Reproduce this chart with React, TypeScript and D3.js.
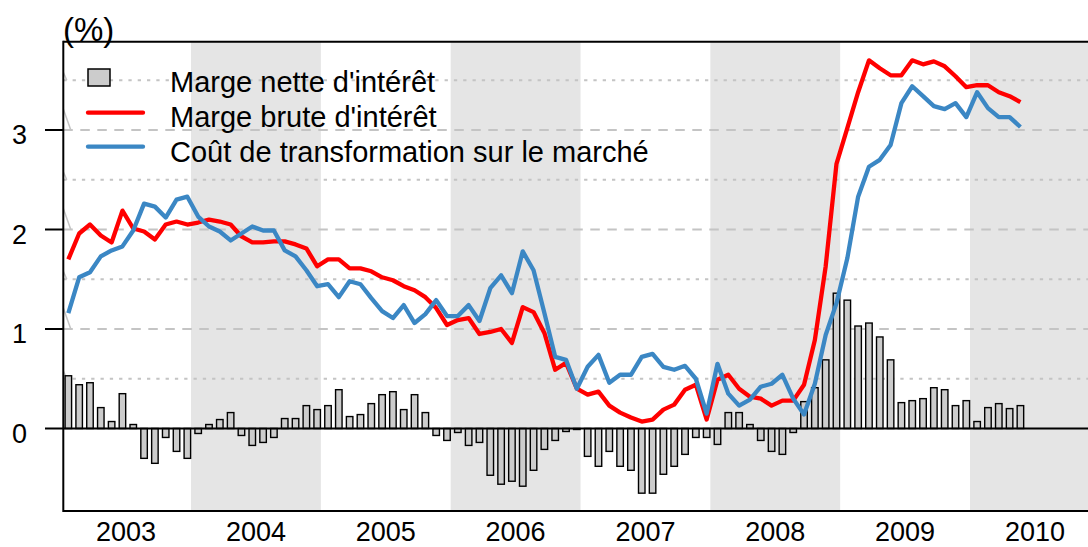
import React from 'react';
import * as d3 from 'd3';

// monthly values, Jan 2003 -> May 2010
const margeNette = [
  0.53, 0.44, 0.46, 0.21, 0.07, 0.35, 0.04, -0.30, -0.35, -0.09, -0.23, -0.30,
  -0.05, 0.04, 0.09, 0.16, -0.07, -0.17, -0.14, -0.09, 0.10, 0.10, 0.23, 0.19,
  0.23, 0.39, 0.12, 0.14, 0.25, 0.34, 0.37, 0.19, 0.34, 0.16, -0.07, -0.12,
  -0.04, -0.17, -0.14, -0.47, -0.56, -0.53, -0.58, -0.42, -0.21, -0.12, -0.03, -0.01,
  -0.28, -0.38, -0.23, -0.38, -0.42, -0.65, -0.65, -0.46, -0.38, -0.26, -0.09, -0.09,
  -0.16, 0.16, 0.16, 0.04, -0.12, -0.23, -0.26, -0.04, 0.27, 0.41, 0.69, 1.36,
  1.29, 1.03, 1.06, 0.92, 0.69, 0.26, 0.28, 0.30, 0.41, 0.39, 0.23, 0.28,
  0.07, 0.21, 0.25, 0.20, 0.23,
];

const margeBrute = [
  1.70, 1.96, 2.05, 1.94, 1.87, 2.19, 2.01, 1.98, 1.90, 2.05, 2.08, 2.05,
  2.07, 2.10, 2.08, 2.05, 1.93, 1.87, 1.87, 1.88, 1.88, 1.85, 1.81, 1.63,
  1.70, 1.70, 1.61, 1.61, 1.58, 1.52, 1.49, 1.43, 1.39, 1.32, 1.21, 1.04,
  1.09, 1.11, 0.95, 0.97, 1.00, 0.86, 1.22, 1.17, 0.96, 0.59, 0.66, 0.40,
  0.34, 0.37, 0.23, 0.16, 0.11, 0.07, 0.09, 0.19, 0.24, 0.39, 0.44, 0.09,
  0.49, 0.54, 0.40, 0.32, 0.30, 0.23, 0.28, 0.28, 0.44, 0.89, 1.63, 2.66,
  3.02, 3.38, 3.70, 3.62, 3.55, 3.55, 3.70, 3.66, 3.69, 3.64, 3.54, 3.43,
  3.45, 3.45, 3.38, 3.34, 3.28,
];

const coutTransfo = [
  1.16, 1.52, 1.57, 1.73, 1.79, 1.83, 1.99, 2.26, 2.23, 2.12, 2.30, 2.33,
  2.13, 2.03, 1.98, 1.89, 1.96, 2.03, 1.99, 1.99, 1.79, 1.73, 1.59, 1.43,
  1.45, 1.32, 1.48, 1.45, 1.31, 1.18, 1.11, 1.24, 1.06, 1.15, 1.29, 1.13,
  1.13, 1.24, 1.08, 1.41, 1.54, 1.36, 1.78, 1.59, 1.16, 0.72, 0.69, 0.40,
  0.62, 0.74, 0.46, 0.54, 0.54, 0.72, 0.75, 0.62, 0.59, 0.63, 0.50, 0.15,
  0.65, 0.35, 0.23, 0.29, 0.42, 0.45, 0.54, 0.30, 0.14, 0.45, 0.94, 1.26,
  1.71, 2.33, 2.63, 2.70, 2.85, 3.27, 3.44, 3.34, 3.24, 3.21, 3.27, 3.13,
  3.38, 3.22, 3.13, 3.13, 3.03,
];

const years = [2003, 2004, 2005, 2006, 2007, 2008, 2009, 2010];
const shadedYears = [2004, 2006, 2008, 2010];
const yTicks = [0, 1, 2, 3];
const gridDashed = [1, 2, 3];
const gridDotted = [0.5, 1.5, 2.5, 3.5];
const legendLabels = [
  "Marge nette d'intérêt",
  "Marge brute d'intérêt",
  'Coût de transformation sur le marché',
];

const font = '"Liberation Sans", Arial, Helvetica, sans-serif';
const plot = { left: 63.3, right: 1088, top: 41.7, bottom: 511 };

export default function App() {
  const x = d3.scaleLinear().domain([2003, 2010]).range([61.2, 970]);
  const y = d3.scaleLinear().domain([0, 3]).range([428.5, 130]);
  const monthX = (i: number) => x(2003 + (i + 0.66) / 12);

  const line = d3
    .line<number>()
    .x((d, i) => monthX(i))
    .y((d) => y(d));

  const bw = 6.5;
  const gridColor = '#c4c4c4';

  return (
    <svg
      width={1088}
      height={547}
      style={{ position: 'absolute', left: 0, top: 0, background: '#fff' }}
      fontFamily={font}
    >
      <defs>
        <clipPath id="plotClip">
          <rect
            x={plot.left}
            y={plot.top}
            width={plot.right - plot.left}
            height={plot.bottom - plot.top}
          />
        </clipPath>
      </defs>

      <g clipPath="url(#plotClip)">
        {shadedYears.map((yr) => (
          <rect
            key={yr}
            x={x(yr)}
            y={plot.top}
            width={x(yr + 1) - x(yr)}
            height={plot.bottom - plot.top}
            fill="#e5e5e5"
          />
        ))}

        {gridDashed.map((v) => (
          <g key={'d' + v}>
            <line x1={plot.left} x2={plot.right} y1={y(v)} y2={y(v)}
              stroke={gridColor} strokeWidth={2} strokeDasharray="9.5 7.5" />
            <line x1={plot.left} x2={plot.left + 7.5} y1={y(v) - 21} y2={y(v)}
              stroke={gridColor} strokeWidth={1.5} />
          </g>
        ))}
        {gridDotted.map((v) => (
          <g key={'p' + v}>
            <line x1={plot.left} x2={plot.right} y1={y(v)} y2={y(v)}
              stroke={gridColor} strokeWidth={2} strokeDasharray="3.3 6" />
            <line x1={plot.left} x2={plot.left + 3.5} y1={y(v) - 8} y2={y(v)}
              stroke={gridColor} strokeWidth={1.5} />
          </g>
        ))}

        {margeNette.map((v, i) => (
          <rect
            key={i}
            x={monthX(i) - bw / 2}
            y={y(Math.max(v, 0))}
            width={bw}
            height={Math.abs(y(v) - y(0))}
            fill="#cccccc"
            stroke="#000"
            strokeWidth={1.4}
          />
        ))}

        <line x1={plot.left} x2={plot.right} y1={y(0)} y2={y(0)} stroke="#000" strokeWidth={2} />

        <path d={line(margeBrute) || ''} fill="none" stroke="#ff0000" strokeWidth={4.3} strokeLinejoin="round" />
        <path d={line(coutTransfo) || ''} fill="none" stroke="#3b87c4" strokeWidth={4.3} strokeLinejoin="round" />
      </g>

      {/* frame */}
      <line x1={plot.left} x2={plot.right} y1={plot.top} y2={plot.top} stroke="#000" strokeWidth={2} />
      <line x1={plot.left} x2={plot.right} y1={plot.bottom} y2={plot.bottom} stroke="#000" strokeWidth={2} />
      <line x1={plot.left} x2={plot.left} y1={plot.top - 1} y2={plot.bottom + 1} stroke="#000" strokeWidth={2} />

      {yTicks.map((v) => (
        <g key={v}>
          <line x1={45} x2={plot.left} y1={y(v)} y2={y(v)} stroke="#000" strokeWidth={2} />
          <text x={27} y={y(v) + 14} fontSize={27} textAnchor="end" fill="#000">
            {v}
          </text>
        </g>
      ))}

      {years.map((yr) => (
        <text key={yr} x={x(yr + 0.5)} y={541} fontSize={27} textAnchor="middle" fill="#000">
          {yr}
        </text>
      ))}

      <text x={63} y={41} fontSize={33} fill="#000">(%)</text>

      {/* legend */}
      <rect x={88} y={69} width={22} height={17} fill="#cccccc" stroke="#000" strokeWidth={1.5} />
      <line x1={88} x2={143} y1={112.7} y2={112.7} stroke="#ff0000" strokeWidth={4.3} strokeLinecap="round" />
      <line x1={88} x2={143} y1={146.7} y2={146.7} stroke="#3b87c4" strokeWidth={4.3} strokeLinecap="round" />
      {legendLabels.map((t, i) => (
        <text key={t} x={170} y={91.7 + i * 35} fontSize={29} fill="#000">
          {t}
        </text>
      ))}
    </svg>
  );
}
